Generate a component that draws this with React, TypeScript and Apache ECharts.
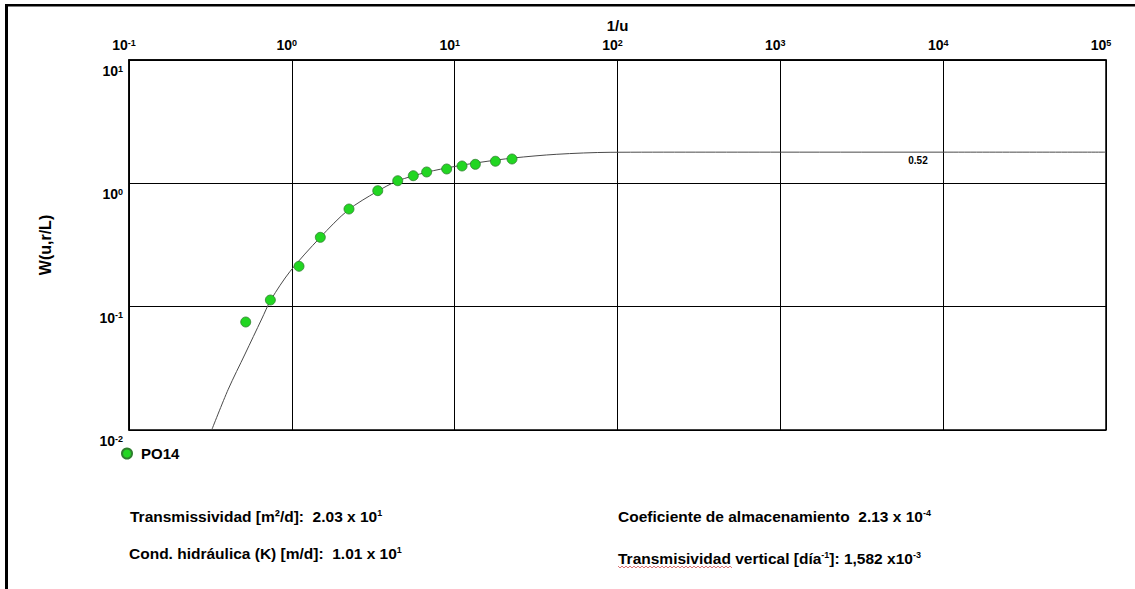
import React, { useEffect, useRef } from 'react';
import * as echarts from 'echarts';

// Observed points (1/u, W(u,r/L)) for well PO14
const obsU = [0.521, 0.738, 1.107, 1.496, 2.244, 3.37, 4.47, 5.57, 6.73, 8.93, 11.1, 13.4, 17.8, 22.5];
const obsW = [0.0751, 0.1132, 0.2125, 0.365, 0.619, 0.872, 1.05, 1.153, 1.236, 1.307, 1.382, 1.426, 1.51, 1.575];

// Type curve (r/L = 0.52)
const curveU = [0.322, 0.407, 0.516, 0.653, 0.745, 0.975, 1.496, 2.22, 3.32, 4.45, 6.73, 10, 14.3, 22.9, 42.4, 90, 300, 1000, 10000, 100000];
const curveW = [0.01, 0.0214, 0.0413, 0.0794, 0.114, 0.193, 0.365, 0.608, 0.855, 1.045, 1.23, 1.37, 1.48, 1.605, 1.72, 1.785, 1.79, 1.79, 1.79, 1.79];

// Tick label exponents
const xExponents = ['-1', '0', '1', '2', '3', '4', '5'];
const yExponents = ['-2', '-1', '0', '1'];

const seriesName = 'PO14';
const curveLabel = '0.52';
const xName = '1/u';
const yName = 'W(u,r/L)';

const FONT = '"Liberation Sans", Arial, sans-serif';

const richAxis = {
  b: { fontSize: 14, fontWeight: 'bold', color: '#000', fontFamily: FONT },
  s: { fontSize: 9, fontWeight: 'bold', color: '#000', fontFamily: FONT, verticalAlign: 'top' },
};
const richText = {
  t: { fontSize: 15.5, fontWeight: 'bold', color: '#000', fontFamily: FONT },
  s: { fontSize: 9, fontWeight: 'bold', color: '#000', fontFamily: FONT, verticalAlign: 'top' },
};

function expLabel(v: number, labels: string[], minExp: number) {
  const e = Math.round(Math.log10(v));
  const s = labels[e - minExp];
  return s === undefined ? '' : `{b|10}{s|${s}}`;
}

function wavy(x0: number, x1: number, y: number) {
  const pts: number[][] = [];
  let up = true;
  for (let x = x0; x <= x1; x += 2) {
    pts.push([x, up ? y - 1 : y + 1]);
    up = !up;
  }
  return pts;
}

export default function App() {
  const ref = useRef<HTMLDivElement>(null);
  useEffect(() => {
    if (!ref.current) return;
    const chart = echarts.init(ref.current, null, { renderer: 'svg' });
    const option: any = {
      animation: false,
      backgroundColor: '#fff',
      grid: {
        left: 129,
        top: 60,
        width: 977,
        height: 370,
        show: true,
        borderColor: '#000',
        borderWidth: 1.5,
        containLabel: false,
      },
      xAxis: {
        type: 'log',
        logBase: 10,
        min: 0.1,
        max: 100000,
        position: 'top',
        name: xName,
        nameLocation: 'middle',
        nameGap: 24,
        nameTextStyle: { fontSize: 15, fontWeight: 'bold', color: '#000', fontFamily: FONT },
        axisLine: { show: true, lineStyle: { color: '#000', width: 1.5 } },
        axisTick: { show: false },
        splitLine: { show: true, lineStyle: { color: '#000', width: 1 } },
        minorSplitLine: { show: false },
        axisLabel: {
          show: true,
          margin: 8,
          showMinLabel: true,
          showMaxLabel: true,
          padding: [0, 10, 0, 0],
          formatter: (v: number) => expLabel(v, xExponents, -1),
          rich: richAxis,
        },
      },
      yAxis: {
        type: 'log',
        logBase: 10,
        min: 0.01,
        max: 10,
        name: yName,
        nameLocation: 'middle',
        nameGap: 76,
        nameRotate: 90,
        nameTextStyle: { fontSize: 16, fontWeight: 'bold', color: '#000', fontFamily: FONT },
        axisLine: { show: true, lineStyle: { color: '#000', width: 1.5 } },
        axisTick: { show: false },
        splitLine: { show: true, lineStyle: { color: '#000', width: 1 } },
        axisLabel: {
          show: true,
          margin: 6,
          showMinLabel: true,
          showMaxLabel: true,
          padding: [22, 0, 0, 0],
          formatter: (v: number) => expLabel(v, yExponents, -2),
          rich: richAxis,
        },
      },
      legend: {
        data: [seriesName],
        left: 121,
        top: 446,
        padding: 0,
        icon: 'circle',
        itemWidth: 10,
        itemHeight: 10,
        textStyle: { fontSize: 15, fontWeight: 'bold', color: '#000', fontFamily: FONT, padding: [0, 0, 0, 4] },
      },
      series: [
        {
          name: 'curve',
          type: 'line',
          data: curveU.map((u, i) => [u, curveW[i]]),
          showSymbol: false,
          smooth: 0.3,
          lineStyle: { color: '#4a4a4a', width: 1 },
          z: 2,
          silent: true,
        },
        {
          name: seriesName,
          type: 'scatter',
          data: obsU.map((u, i) => [u, obsW[i]]),
          symbol: 'circle',
          symbolSize: 10,
          itemStyle: { color: '#22d622', borderColor: '#2f7f2f', borderWidth: 0.8, opacity: 1 },
          z: 3,
        },
      ],
      graphic: [
        { type: 'line', shape: { x1: 6.5, y1: 5, x2: 6.5, y2: 589 }, style: { stroke: '#000', lineWidth: 3 } },
        { type: 'line', shape: { x1: 5, y1: 5.3, x2: 1135, y2: 5.3 }, style: { stroke: '#000', lineWidth: 2.5 } },
        {
          type: 'text', x: 918, y: 160,
          style: { text: curveLabel, fontSize: 10, fontWeight: 'bold', fill: '#000', fontFamily: FONT, align: 'center', verticalAlign: 'middle' },
        },
        {
          type: 'text', x: 130, y: 516,
          style: { text: '{t|Transmissividad [m²/d]:  2.03 x 10}{s|1}', rich: richText, align: 'left', verticalAlign: 'middle' },
        },
        {
          type: 'text', x: 129, y: 553,
          style: { text: '{t|Cond. hidráulica (K) [m/d]:  1.01 x 10}{s|1}', rich: richText, align: 'left', verticalAlign: 'middle' },
        },
        {
          type: 'text', x: 618, y: 516,
          style: { text: '{t|Coeficiente de almacenamiento  2.13 x 10}{s|-4}', rich: richText, align: 'left', verticalAlign: 'middle' },
        },
        {
          type: 'text', x: 618, y: 558,
          style: { text: '{t|Transmisividad vertical [día}{s|-1}{t|]: 1,582 x10}{s|-3}', rich: richText, align: 'left', verticalAlign: 'middle' },
        },
        {
          type: 'polyline', shape: { points: wavy(618, 732, 567) },
          style: { stroke: '#d05050', lineWidth: 0.8, fill: null },
        },
      ],
    };
    chart.setOption(option);
    return () => chart.dispose();
  }, []);
  return (
    <div
      ref={ref}
      style={{ position: 'fixed', left: 0, top: 0, width: 1135, height: 589, background: '#fff' }}
    />
  );
}
